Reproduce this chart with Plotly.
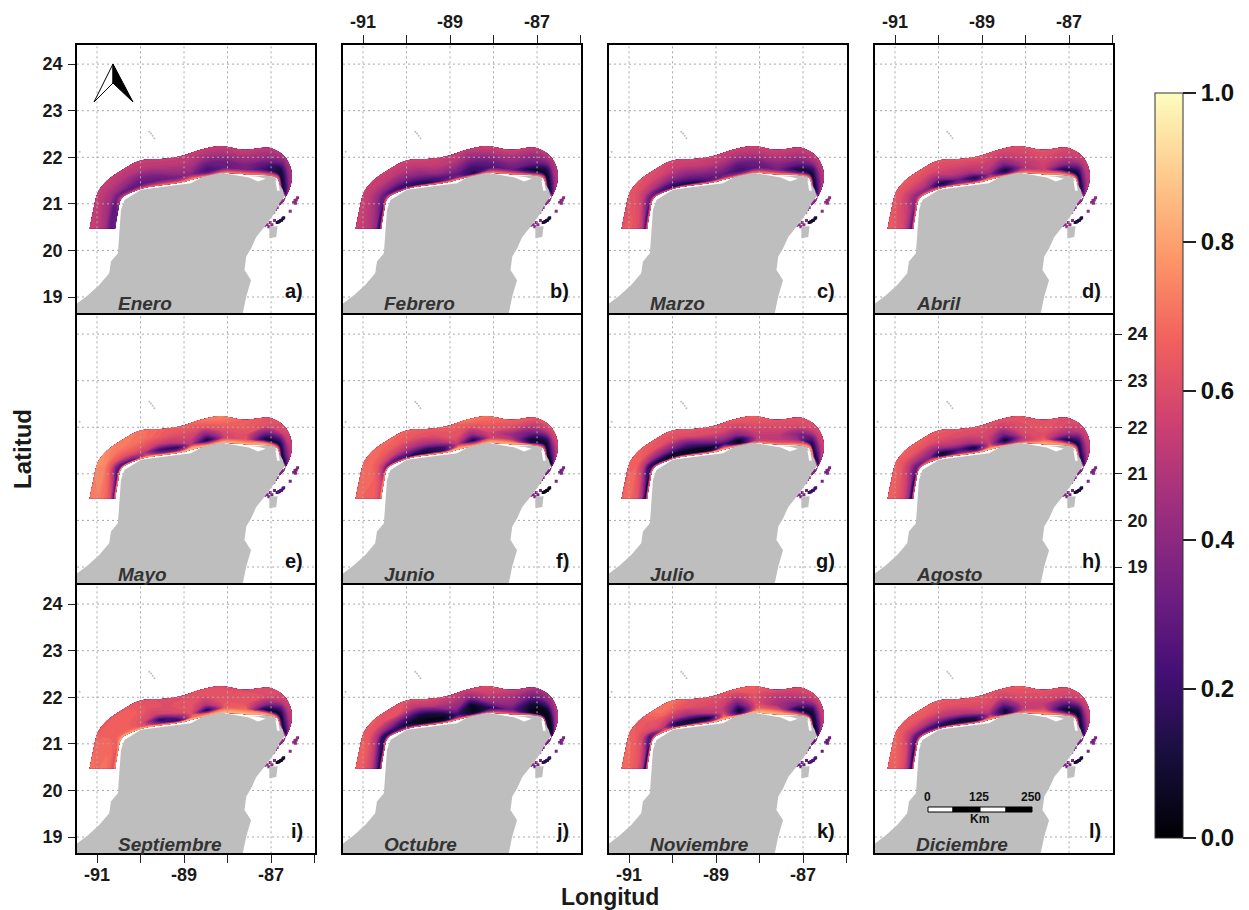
import plotly.graph_objects as go
from plotly.colors import sequential

months = ["Enero","Febrero","Marzo","Abril","Mayo","Junio","Julio","Agosto","Septiembre","Octubre","Noviembre","Diciembre"]
letters = ["a)","b)","c)","d)","e)","f)","g)","h)","i)","j)","k)","l)"]

# band geometry: stations along the shelf (lon/lat of inner and outer edge)
inner_lon = [-90.58,-90.52,-90.43,-90.08,-89.81,-89.43,-89.08,-88.78,-88.43,-88.05,-87.55,-87.17,-86.86,-86.77,-86.67,-86.82]
inner_lat = [20.47,20.82,21.12,21.29,21.36,21.41,21.46,21.53,21.61,21.66,21.63,21.62,21.55,21.28,21.14,20.96]
outer_lon = [-91.17,-91.08,-90.98,-90.77,-90.39,-90.00,-89.54,-89.02,-88.62,-88.16,-87.63,-87.02,-86.67,-86.52,-86.59,-86.79]
outer_lat = [20.47,20.89,21.25,21.50,21.75,21.93,21.96,22.04,22.16,22.24,22.16,22.20,22.00,21.64,21.28,21.00]
band_frac = [0,0.08,0.2,0.4,0.7,1]

jan = [[40,35,60,70,70,72,75,80,70,75,78,75,70,60,55,45],[30,30,45,40,45,50,50,60,35,55,60,50,55,35,40,35],[30,28,32,28,28,30,34,38,22,30,35,20,10,8,25,30],[46,44,44,40,34,36,42,44,30,32,36,28,10,20,34,40],[52,50,50,50,48,50,50,50,46,46,46,44,34,40,46,48],[54,54,54,54,54,54,54,54,54,54,54,52,50,48,48,50]]
feb = [[70,70,72,70,72,75,75,78,72,75,78,75,75,70,65,45],[12,15,40,30,15,12,30,40,10,55,55,30,50,30,40,35],[40,36,30,20,20,22,25,28,18,25,30,8,6,5,28,30],[48,46,42,38,36,38,42,38,26,30,36,30,12,22,34,40],[53,52,52,52,50,50,52,50,42,46,46,42,40,44,46,48],[56,56,55,55,56,56,56,54,54,56,56,54,52,50,48,50]]
mar = [[75,72,72,70,72,75,75,78,72,75,80,78,78,72,65,45],[25,20,35,22,10,10,28,42,35,55,55,35,50,30,40,35],[52,42,34,24,22,24,28,30,22,28,34,12,6,8,28,30],[60,58,52,46,40,38,38,38,28,32,38,30,18,26,36,40],[64,62,60,58,56,52,52,50,46,48,48,46,44,44,46,48],[62,62,62,62,60,58,56,56,56,56,56,55,54,52,50,50]]
apr = [[75,75,75,78,78,80,80,82,78,78,82,80,80,72,65,45],[25,30,50,50,25,38,30,55,25,60,65,60,50,30,45,35],[45,45,40,36,8,30,14,40,8,45,55,12,6,10,35,30],[58,55,50,50,40,50,45,50,34,50,55,40,22,30,42,40],[62,60,60,60,58,58,56,56,52,56,58,54,48,48,50,48],[64,64,64,64,64,62,62,62,60,60,62,58,56,52,50,50]]
may = [[82,82,85,85,85,85,85,85,85,85,85,85,80,70,65,45],[28,22,24,28,60,35,40,78,55,75,75,70,50,20,30,30],[60,50,32,40,50,20,15,50,8,55,62,8,8,10,18,20],[68,66,60,60,62,55,50,55,35,58,60,30,25,30,30,30],[72,74,74,70,70,68,62,60,62,66,64,60,55,48,42,40],[70,72,76,74,72,70,66,66,70,74,66,62,60,54,48,46]]
jun = [[80,80,82,82,85,85,85,85,82,85,85,80,72,65,55,40],[55,55,30,30,10,10,20,75,55,75,75,15,45,10,10,15],[64,60,50,28,28,14,18,50,10,55,50,8,6,5,8,15],[66,66,62,56,50,45,45,60,40,58,42,30,15,25,25,30],[66,68,68,66,64,62,60,62,60,64,60,52,50,45,42,40],[68,68,68,68,68,66,64,66,72,70,66,64,62,58,50,46]]
jul = [[78,75,75,80,85,85,85,85,80,78,80,82,82,72,60,45],[8,6,25,8,8,5,6,60,5,55,60,60,70,55,30,15],[45,35,15,10,6,5,5,20,4,50,52,45,10,8,10,15],[62,58,50,40,35,25,30,42,38,54,52,38,25,25,25,30],[68,68,66,62,60,58,58,58,56,60,58,58,52,50,46,44],[66,66,66,66,64,64,62,62,64,66,62,62,60,56,50,48]]
aug = [[75,72,72,75,80,82,82,85,82,78,82,82,78,70,60,45],[8,10,35,60,15,38,30,70,30,55,78,65,55,35,30,20],[45,40,32,36,6,22,8,55,6,50,65,15,8,10,15,20],[58,55,50,46,40,50,45,55,32,58,60,45,22,28,30,30],[64,64,62,62,60,60,58,58,54,60,62,58,50,48,46,42],[66,66,66,66,66,64,62,62,62,62,62,60,58,54,50,46]]
sep = [[82,80,82,85,85,85,85,85,85,85,85,85,80,72,65,45],[60,62,72,72,62,30,15,70,65,78,80,70,45,40,30,20],[66,66,66,66,58,14,30,62,10,64,68,8,5,8,15,20],[70,68,66,66,62,55,58,62,48,62,62,40,20,25,28,30],[68,68,66,66,66,62,60,62,60,62,62,60,50,46,44,40],[70,68,64,64,64,62,60,60,62,60,60,60,58,54,48,46]]
oct_ = [[72,70,72,70,75,75,78,80,72,75,75,72,70,65,50,40],[8,8,20,30,20,6,8,40,5,40,50,5,8,15,15,15],[35,25,14,14,6,4,4,18,4,14,30,4,4,4,12,15],[55,52,46,38,25,10,14,38,5,40,40,10,5,8,20,28],[64,64,62,60,62,50,50,48,42,54,46,34,36,40,42,40],[66,66,64,64,62,62,60,56,56,60,56,50,48,54,50,46]]
nov = [[80,80,80,82,85,85,85,85,85,85,85,82,80,70,60,45],[10,10,30,62,10,15,30,72,15,78,78,50,30,20,18,20],[50,45,25,50,12,8,6,60,5,62,60,10,6,6,14,20],[62,60,55,60,50,45,50,54,28,60,45,35,15,22,26,30],[66,66,64,62,68,62,60,58,52,62,50,52,46,46,44,42],[68,68,66,64,70,70,62,62,66,66,60,60,60,56,50,46]]
dec = [[78,75,75,75,78,80,78,80,80,78,80,78,78,70,60,45],[12,10,30,30,12,10,10,62,6,60,70,42,35,25,20,20],[45,35,28,22,18,10,14,45,8,50,58,8,5,8,15,20],[60,58,50,48,45,48,48,55,30,55,52,28,14,24,28,30],[66,64,62,62,62,60,60,60,56,60,58,56,48,46,44,42],[66,68,66,64,66,64,62,62,62,64,62,60,60,56,50,46]]
month_values = [jan,feb,mar,apr,may,jun,jul,aug,sep,oct_,nov,dec]

# reef pixels near Cozumel and off the north-east corner
reef_dark_lon = [-86.86,-86.83,-86.81,-86.78,-86.76,-86.73,-86.71]
reef_dark_lat = [20.60,20.61,20.62,20.64,20.65,20.68,20.70]
reef_mid_lon = [-87.21,-87.15,-87.09,-87.02,-86.98,-86.92,-87.05,-86.48,-86.45,-86.42,-86.39,-86.44,-86.56,-86.94,-86.90,-86.86,-86.80,-86.75]
reef_mid_lat = [20.53,20.54,20.55,20.60,20.55,20.64,20.51,21.03,21.07,21.08,21.13,21.01,20.84,20.82,20.88,20.92,21.02,21.07]
reef_dark = [.12,.10,.10,.12,.25,.05,.20,.10,.08,.15,.25,.10]
reef_mid = [.40,.40,.40,.40,.35,.35,.35,.35,.40,.35,.30,.35]

land_lon = [-91.46,-91.46,-91.21,-90.95,-90.72,-90.68,-90.52,-90.50,-90.49,-90.45,-90.37,-89.99,-89.30,-88.84,-88.57,-88.15,-87.84,-87.54,-87.15,-86.92,-86.73,-86.69,-86.81,-86.92,-87.15,-87.34,-87.46,-87.57,-87.61,-87.46,-87.57,-87.65,-91.46,None,-87.04,-86.85,-86.88,-87.04,-87.04]
land_lat = [18.65,18.86,19.04,19.26,19.51,19.76,19.94,20.22,20.51,20.87,21.08,21.30,21.39,21.44,21.58,21.67,21.62,21.57,21.62,21.58,21.30,21.15,21.01,20.80,20.51,20.29,20.04,19.87,19.58,19.36,19.01,18.65,18.65,None,20.51,20.52,20.29,20.26,20.51]
lagoon_lon = [-87.54,-87.43,-87.50,-87.61,-87.54,None,-87.55,-87.30,-87.12,-87.30,-87.55,None,-86.90,-86.84,-86.80,-86.86,-86.90]
lagoon_lat = [19.72,19.61,19.51,19.58,19.72,None,21.58,21.58,21.54,21.48,21.58,None,21.50,21.50,21.28,21.28,21.50]
islet_lon = [-89.80,-89.76,-89.72,-89.68,-91.40]
islet_lat = [22.55,22.51,22.46,22.41,22.12]

grid_lons = [-91,-90,-89,-88,-87]
grid_lats = [19,20,21,22,23,24]
lon_ticks = [-91,-90,-89,-88,-87,-86]
lon_text = ["-91","","-89","","-87",""]
lat_ticks = [19,20,21,22,23,24]
cbar_ticks = [0,.2,.4,.6,.8,1]
cbar_text = ["0.0","0.2","0.4","0.6","0.8","1.0"]

W, H = 1249, 910
col_left = [77,343,609,875]
row_top = [45,315,585]
pw, ph = 238, 268.3
lon_range = [-91.46,-85.99]
lat_range = [18.65,24.41]
FONT = "Liberation Sans"
px = lambda x: x/W
py = lambda y: 1-y/H

fig = go.Figure()
layout = {}
ann = []
grid_x, grid_y = [], []
for g in grid_lons:
    grid_x += [g,g,None]; grid_y += [lat_range[0],lat_range[1],None]
for g in grid_lats:
    grid_x += [lon_range[0],lon_range[1],None]; grid_y += [g,g,None]

x_grid = [[o_i + f*(o_o-o_i) for o_i,o_o in zip(inner_lon,outer_lon)] for f in band_frac]
y_grid = [[o_i + f*(o_o-o_i) for o_i,o_o in zip(inner_lat,outer_lat)] for f in band_frac]
stations = list(range(len(inner_lon)))
ax_off = dict(showgrid=False,showticklabels="none",showline=False)

for i,m in enumerate(months):
    r, c = i//4, i%4
    n = "" if i==0 else str(i+1)
    xa, ya = "x"+n, "y"+n
    L, T = col_left[c], row_top[r]
    xshow = (r==0 and c%2==1) or (r==2 and c%2==0)
    xside = "top" if r==0 else "bottom"
    yshow = (c==0 and r%2==0) or (c==3 and r==1)
    yside = "left" if c==0 else "right"
    tf = dict(family=FONT,size=18,color="#1a1a1a",weight=700)
    layout["xaxis"+n] = dict(domain=[px(L),px(L+pw)],range=lon_range,anchor=ya,side=xside,
        showgrid=False,zeroline=False,showline=True,mirror=True,linecolor="black",linewidth=1.7,
        tickmode="array",tickvals=lon_ticks if xshow else [],ticktext=lon_text if xshow else [],
        ticks="outside" if xshow else "",ticklen=8,tickwidth=1.2,tickcolor="#222",tickfont=tf,
        ticklabelstandoff=(-4 if r==2 else 0))
    layout["yaxis"+n] = dict(domain=[py(T+ph),py(T)],range=lat_range,anchor=xa,side=yside,
        showgrid=False,zeroline=False,showline=True,mirror=True,linecolor="black",linewidth=1.7,
        tickmode="array",tickvals=lat_ticks if yshow else [],
        ticks="outside" if yshow else "",ticklen=7,tickwidth=1.2,tickcolor="#222",tickfont=tf,tickangle=0,ticklabelstandoff=2)
    cid = f"car{i}"
    fig.add_trace(go.Carpet(carpet=cid,a=stations,b=band_frac,x=x_grid,y=y_grid,xaxis=xa,yaxis=ya,aaxis=ax_off,baxis=ax_off))
    z = [[v/100 for v in row] for row in month_values[i]]
    fig.add_trace(go.Contourcarpet(carpet=cid,a=stations,b=band_frac,z=z,xaxis=xa,yaxis=ya,colorscale=sequential.Magma,zmin=0,zmax=1,showscale=False,
        autocontour=False,contours=dict(start=0.005,end=1,size=0.02,coloring="fill",showlines=False),line=dict(width=0)))
    fig.add_trace(go.Scatter(x=reef_dark_lon+reef_mid_lon,y=reef_dark_lat+reef_mid_lat,mode="markers",xaxis=xa,yaxis=ya,
        marker=dict(symbol="square",size=3,line=dict(width=0),coloraxis="coloraxis",
                    color=[reef_dark[i]]*len(reef_dark_lon)+[reef_mid[i]]*len(reef_mid_lon))))
    fig.add_trace(go.Scatter(x=grid_x,y=grid_y,mode="lines",xaxis=xa,yaxis=ya,
        line=dict(color="#a8a8a8",width=1,dash="2px,3px")))
    fig.add_trace(go.Scatter(x=land_lon,y=land_lat,mode="lines",fill="toself",fillcolor="#bebebe",xaxis=xa,yaxis=ya,line=dict(width=0)))
    fig.add_trace(go.Scatter(x=lagoon_lon,y=lagoon_lat,mode="lines",fill="toself",fillcolor="white",xaxis=xa,yaxis=ya,line=dict(width=0)))
    fig.add_trace(go.Scatter(x=islet_lon,y=islet_lat,mode="markers",xaxis=xa,yaxis=ya,marker=dict(color="#bebebe",size=2,line=dict(width=0))))
    ann.append(dict(x=px(L+39),y=py(T+259),xref="paper",yref="paper",text=m,showarrow=False,xanchor="left",yanchor="middle",
        font=dict(family=FONT,size=19,color="#333333",weight=700,style="italic")))
    ann.append(dict(x=px(L+228),y=py(T+246),xref="paper",yref="paper",text=letters[i],showarrow=False,xanchor="right",yanchor="middle",
        font=dict(family=FONT,size=20,color="#111111",weight=700)))

ann.append(dict(x=px(610),y=py(897),xref="paper",yref="paper",text="Longitud",showarrow=False,xanchor="center",yanchor="middle",borderpad=0,
    font=dict(family=FONT,size=23,color="#1a1a1a",weight=700)))
ann.append(dict(x=px(22),y=py(449),xref="paper",yref="paper",text="Latitud",showarrow=False,textangle=-90,xanchor="center",yanchor="middle",
    font=dict(family=FONT,size=24,color="#1a1a1a",weight=700)))
for t,x in zip(["0","125","250"],[927,979,1031]):
    ann.append(dict(x=px(x),y=py(797),xref="paper",yref="paper",text=t,showarrow=False,xanchor="center",yanchor="middle",font=dict(family=FONT,size=12,color="#111",weight=700)))
ann.append(dict(x=px(979),y=py(819),xref="paper",yref="paper",text="Km",showarrow=False,xanchor="center",yanchor="middle",font=dict(family=FONT,size=12,color="#111",weight=700)))

shapes = []
def poly(pts,fill,line="black",w=1):
    path = "M "+" L ".join(f"{px(a):.5f},{py(b):.5f}" for a,b in pts)+" Z"
    shapes.append(dict(type="path",path=path,xref="paper",yref="paper",fillcolor=fill,line=dict(color=line,width=w)))
poly([(113,64),(94,102),(113,83)],"white")
poly([(113,64),(133,102),(113,83)],"black")
for a,b,col in [(928,953,"white"),(953,980,"black"),(980,1006,"white"),(1006,1032,"black")]:
    poly([(a,807),(b,807),(b,812),(a,812)],col)

fig.update_layout(
    width=W,height=H,margin=dict(l=0,r=0,t=0,b=0),paper_bgcolor="white",plot_bgcolor="white",showlegend=False,
    annotations=ann,shapes=shapes,hovermode=False,
    coloraxis=dict(cmin=0,cmax=1,colorscale=sequential.Magma,
        colorbar=dict(x=px(1155),xanchor="left",y=py(93),yanchor="top",lenmode="pixels",len=745,thicknessmode="pixels",thickness=28,
            xpad=0,ypad=0,outlinecolor="#333",outlinewidth=1,ticks="outside",ticklen=13,tickwidth=1.5,tickcolor="#222",
            tickmode="array",tickvals=cbar_ticks,ticktext=cbar_text,
            tickfont=dict(family=FONT,size=24,color="#111",weight=700))),
    **layout)
fig.write_html("out.html",post_script="document.body.style.margin='0';",config=dict(displayModeBar=False))
